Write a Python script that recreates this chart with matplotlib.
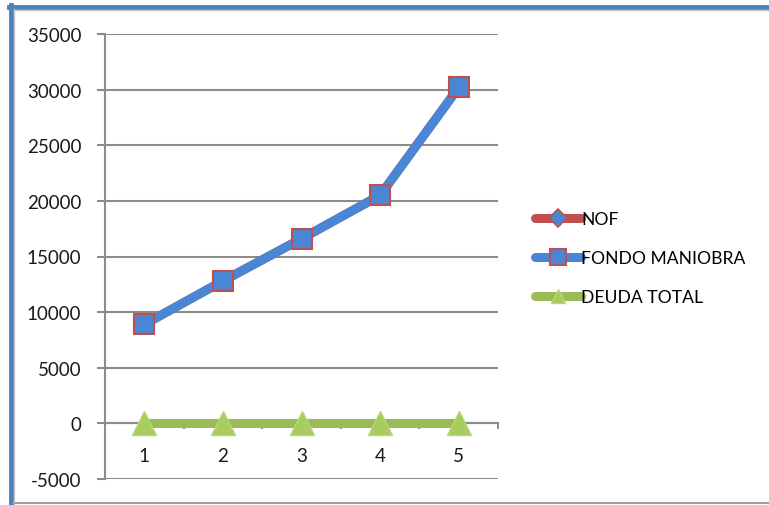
import matplotlib.pyplot as plt
from matplotlib.lines import Line2D
from matplotlib.ticker import FixedLocator

plt.rcParams['font.family'] = ['Lato', 'DejaVu Sans']

# datos de la serie
periodos = [1, 2, 3, 4, 5]
fondo_maniobra = [8900, 12800, 16600, 20500, 30200]
nof = [8900, 12800, 16600, 20500, 30200]
deuda_total = [0, 0, 0, 0, 0]
series = ['NOF', 'FONDO MANIOBRA', 'DEUDA TOTAL']
y_ticks = [-5000, 0, 5000, 10000, 15000, 20000, 25000, 30000, 35000]

W, H = 769, 506
fig = plt.figure(figsize=(W / 100, H / 100), dpi=100)
ax = fig.add_axes([105 / W, 1 - 480 / H, 393 / W, 445 / H])

gris = '#8c8c8c'
azul = '#4a86d6'
rojo = '#c0504d'
verde = '#9bbb59'

ax.plot(periodos, nof, color=rojo, lw=6.5, marker='D', ms=9,
        mfc=azul, mec=rojo, mew=1.2, label=series[0], zorder=3,
        solid_capstyle='round')
ax.plot(periodos, fondo_maniobra, color=azul, lw=6.5, marker='s', ms=15,
        mfc=azul, mec=rojo, mew=1.5, label=series[1], zorder=4,
        solid_joinstyle='round', solid_capstyle='round')
ax.plot(periodos, deuda_total, color=verde, lw=6.5, marker='^', ms=17,
        mfc='#a9cc5e', mec='#b9d67c', mew=1, label=series[2], zorder=5,
        solid_capstyle='round')

ax.set_xlim(0.5, 5.5)
ax.set_ylim(-5000, 35000)
ax.set_yticks(y_ticks)
ax.set_yticklabels([str(v) for v in y_ticks])
ax.grid(axis='y', color=gris, lw=1.5, zorder=1)
ax.set_axisbelow(True)

for s in ['top', 'right']:
    ax.spines[s].set_visible(False)
ax.spines['left'].set_color(gris)
ax.spines['left'].set_linewidth(1.5)
ax.spines['bottom'].set_position(('data', 0))
ax.spines['bottom'].set_color(gris)
ax.spines['bottom'].set_linewidth(1.5)

ax.set_xticks(periodos)
ax.set_xticklabels([str(p) for p in periodos])
ax.xaxis.set_minor_locator(FixedLocator([1.5, 2.5, 3.5, 4.5, 5.5]))
ax.tick_params(axis='x', which='major', length=0, pad=17, labelsize=13.5,
               labelcolor='#1a1a1a')
ax.tick_params(axis='x', which='minor', length=4, width=1.5, color=gris,
               direction='out')
ax.tick_params(axis='y', length=6, width=1.5, color=gris, pad=11,
               labelsize=13.5, labelcolor='#1a1a1a')

leg = fig.legend(loc='center left', bbox_to_anchor=(519 / W, 1 - 259 / H),
                 frameon=False, fontsize=12.6, handlelength=2.65,
                 handletextpad=0.0, labelspacing=1.3)
for h, ms in zip(leg.legend_handles, [9, 11, 10]):
    h.set_markersize(ms)
    h.set_solid_capstyle('round')

# marco del gráfico
fig.add_artist(Line2D([9 / W, 1], [1 - 8 / H, 1 - 8 / H], color='#4f81bd', lw=3.5))
fig.add_artist(Line2D([9 / W, 1], [1 - 11 / H, 1 - 11 / H], color='#c8c8c8', lw=1))
fig.add_artist(Line2D([11 / W, 11 / W], [0, 1 - 6 / H], color='#4f81bd', lw=3.5))
fig.add_artist(Line2D([14 / W, 14 / W], [0, 1 - 10 / H], color='#c8c8c8', lw=1))
fig.add_artist(Line2D([14 / W, 1], [1 - 504 / H, 1 - 504 / H], color='#a0a0a0', lw=1.5))

fig.savefig('out.png', dpi=100)
